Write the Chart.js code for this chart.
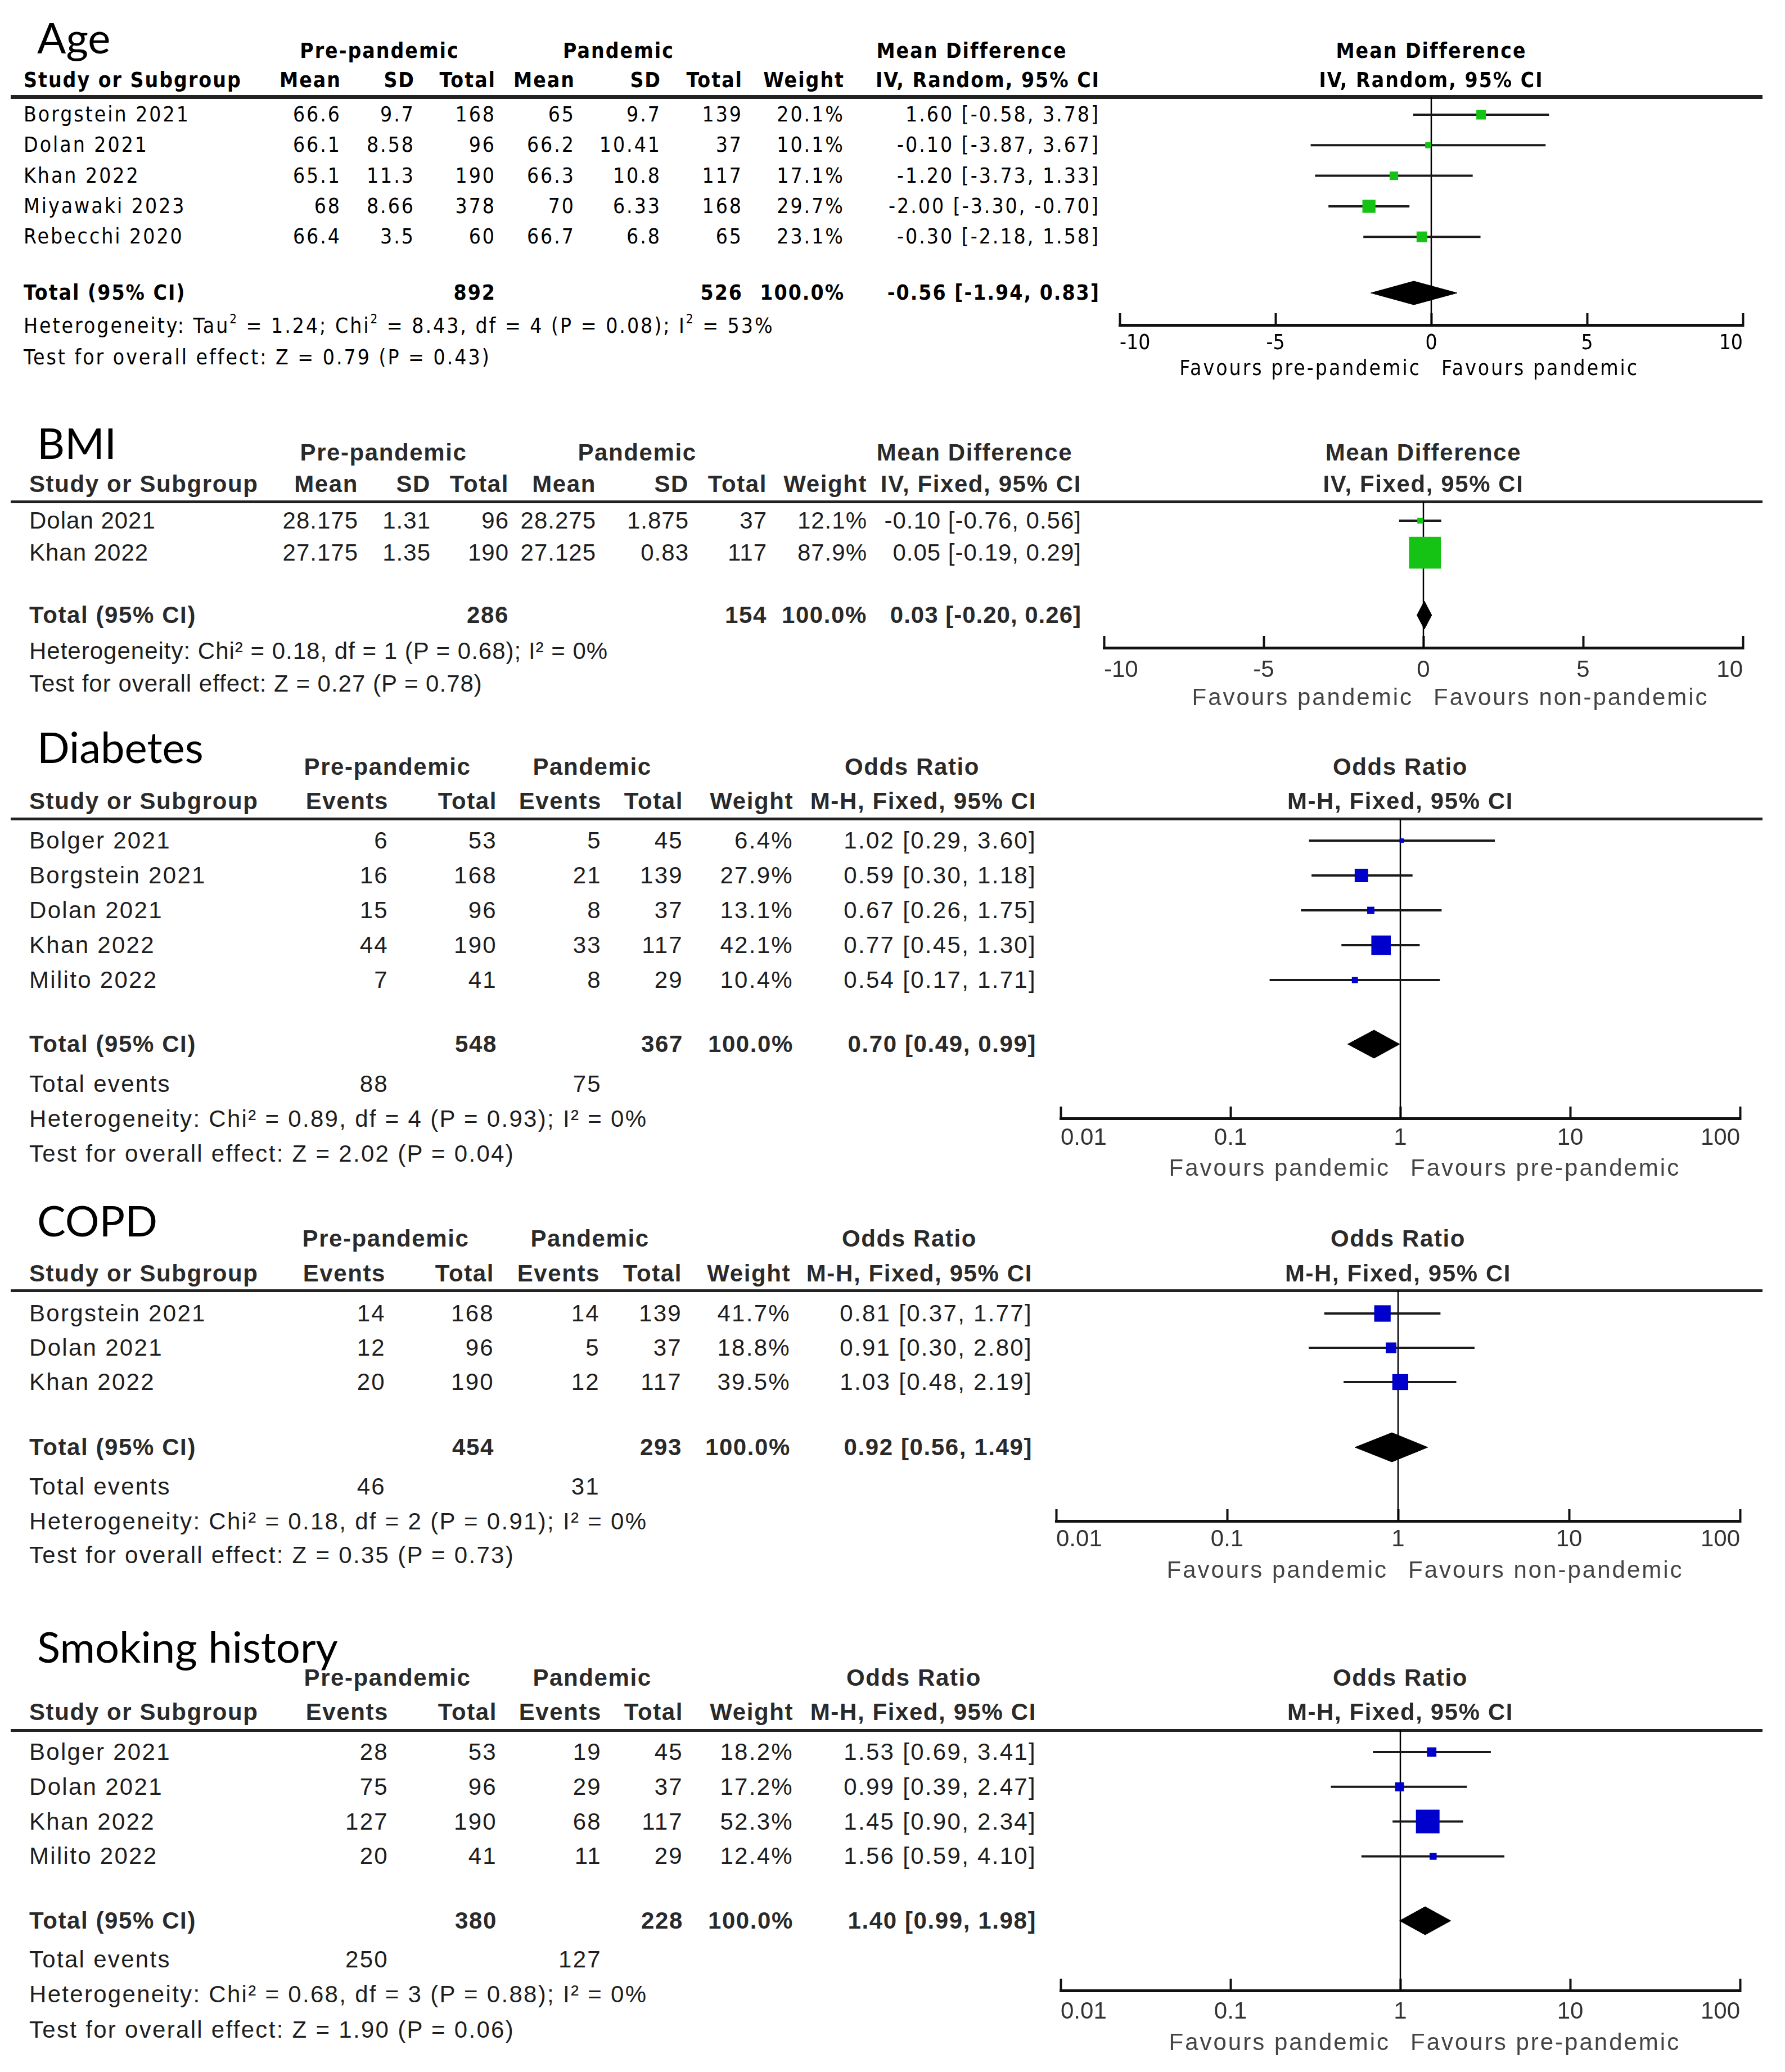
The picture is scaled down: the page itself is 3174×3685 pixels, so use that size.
<!DOCTYPE html>
<html>
<head>
<meta charset="utf-8">
<script src="https://cdn.jsdelivr.net/npm/chart.js@4.4.1/dist/chart.umd.min.js"></script>
<style>
body { margin: 0; background: #fff; }
#page { position: relative; width: 3174px; height: 3685px; overflow: hidden; background: #fff; }
.t { position: absolute; white-space: nowrap; height: 80px; line-height: 80px; }
.dv { font-family: 'DejaVu Sans Condensed', 'DejaVu Sans', sans-serif; font-stretch: condensed; font-size: 37px; letter-spacing: 3px; color: #000; }
.dv.b { letter-spacing: 2px; }
.an { font-family: 'Liberation Sans', Arial, sans-serif; font-size: 42px; letter-spacing: 2.3px; color: #1e1e1e; }
.an.b { letter-spacing: 1.6px; color: #2a2a2a; }
.an.fav { color: #444; letter-spacing: 3px; }
.an.tight { letter-spacing: 1px; }
.b { font-weight: bold; }
.ttl { font-family: Lato, sans-serif; font-size: 76px; color: #000; }
sup { font-size: 0.6em; line-height: 0; vertical-align: 0.75em; }
.rule { position: absolute; height: 5px; background: #222; }
canvas { position: absolute; }
</style>
</head>
<body>
<div id="page"></div>
<script>
// ---------- Age (mean difference, random) ----------
const ageStudies = ['Borgstein 2021', 'Dolan 2021', 'Khan 2022', 'Miyawaki 2023', 'Rebecchi 2020']
const ageMeanPre = [66.6, 66.1, 65.1, 68, 66.4]
const ageSdPre = [9.7, 8.58, 11.3, 8.66, 3.5]
const ageTotalPre = [168, 96, 190, 378, 60]
const ageMeanPan = [65, 66.2, 66.3, 70, 66.7]
const ageSdPan = [9.7, 10.41, 10.8, 6.33, 6.8]
const ageTotalPan = [139, 37, 117, 168, 65]
const ageWeight = [20.1, 10.1, 17.1, 29.7, 23.1]
const ageEst = [1.60, -0.10, -1.20, -2.00, -0.30]
const ageLo = [-0.58, -3.87, -3.73, -3.30, -2.18]
const ageHi = [3.78, 3.67, 1.33, -0.70, 1.58]
const ageOverall = [-0.56, -1.94, 0.83]
const ageSums = [892, 526]
const ageHet = 'Heterogeneity: Tau<sup>2</sup> = 1.24; Chi<sup>2</sup> = 8.43, df = 4 (P = 0.08); I<sup>2</sup> = 53%'
const ageTest = 'Test for overall effect: Z = 0.79 (P = 0.43)'
const ageFavours = ['Favours pre-pandemic', 'Favours pandemic']

// ---------- BMI (mean difference, fixed) ----------
const bmiStudies = ['Dolan 2021', 'Khan 2022']
const bmiMeanPre = [28.175, 27.175]
const bmiSdPre = [1.31, 1.35]
const bmiTotalPre = [96, 190]
const bmiMeanPan = [28.275, 27.125]
const bmiSdPan = [1.875, 0.83]
const bmiTotalPan = [37, 117]
const bmiWeight = [12.1, 87.9]
const bmiEst = [-0.10, 0.05]
const bmiLo = [-0.76, -0.19]
const bmiHi = [0.56, 0.29]
const bmiOverall = [0.03, -0.20, 0.26]
const bmiSums = [286, 154]
const bmiHet = 'Heterogeneity: Chi² = 0.18, df = 1 (P = 0.68); I² = 0%'
const bmiTest = 'Test for overall effect: Z = 0.27 (P = 0.78)'
const bmiFavours = ['Favours pandemic', 'Favours non-pandemic']

// tick values for mean-difference axes
const mdTicks = [-10, -5, 0, 5, 10]
const mdTickLabels = ['-10', '-5', '0', '5', '10']

// ---------- Diabetes (odds ratio) ----------
const diaStudies = ['Bolger 2021', 'Borgstein 2021', 'Dolan 2021', 'Khan 2022', 'Milito 2022']
const diaEventsPre = [6, 16, 15, 44, 7]
const diaTotalPre = [53, 168, 96, 190, 41]
const diaEventsPan = [5, 21, 8, 33, 8]
const diaTotalPan = [45, 139, 37, 117, 29]
const diaWeight = [6.4, 27.9, 13.1, 42.1, 10.4]
const diaEst = [1.02, 0.59, 0.67, 0.77, 0.54]
const diaLo = [0.29, 0.30, 0.26, 0.45, 0.17]
const diaHi = [3.60, 1.18, 1.75, 1.30, 1.71]
const diaOverall = [0.70, 0.49, 0.99]
const diaSums = [548, 367]
const diaEvents = [88, 75]
const diaHet = 'Heterogeneity: Chi² = 0.89, df = 4 (P = 0.93); I² = 0%'
const diaTest = 'Test for overall effect: Z = 2.02 (P = 0.04)'
const diaFavours = ['Favours pandemic', 'Favours pre-pandemic']

// ---------- COPD (odds ratio) ----------
const copdStudies = ['Borgstein 2021', 'Dolan 2021', 'Khan 2022']
const copdEventsPre = [14, 12, 20]
const copdTotalPre = [168, 96, 190]
const copdEventsPan = [14, 5, 12]
const copdTotalPan = [139, 37, 117]
const copdWeight = [41.7, 18.8, 39.5]
const copdEst = [0.81, 0.91, 1.03]
const copdLo = [0.37, 0.30, 0.48]
const copdHi = [1.77, 2.80, 2.19]
const copdOverall = [0.92, 0.56, 1.49]
const copdSums = [454, 293]
const copdEvents = [46, 31]
const copdHet = 'Heterogeneity: Chi² = 0.18, df = 2 (P = 0.91); I² = 0%'
const copdTest = 'Test for overall effect: Z = 0.35 (P = 0.73)'
const copdFavours = ['Favours pandemic', 'Favours non-pandemic']

// ---------- Smoking history (odds ratio) ----------
const smkStudies = ['Bolger 2021', 'Dolan 2021', 'Khan 2022', 'Milito 2022']
const smkEventsPre = [28, 75, 127, 20]
const smkTotalPre = [53, 96, 190, 41]
const smkEventsPan = [19, 29, 68, 11]
const smkTotalPan = [45, 37, 117, 29]
const smkWeight = [18.2, 17.2, 52.3, 12.4]
const smkEst = [1.53, 0.99, 1.45, 1.56]
const smkLo = [0.69, 0.39, 0.90, 0.59]
const smkHi = [3.41, 2.47, 2.34, 4.10]
const smkOverall = [1.40, 0.99, 1.98]
const smkSums = [380, 228]
const smkEvents = [250, 127]
const smkHet = 'Heterogeneity: Chi² = 0.68, df = 3 (P = 0.88); I² = 0%'
const smkTest = 'Test for overall effect: Z = 1.90 (P = 0.06)'
const smkFavours = ['Favours pandemic', 'Favours pre-pandemic']

// tick values for odds-ratio axes
const orTicks = [0.01, 0.1, 1, 10, 100]
const orTickLabels = ['0.01', '0.1', '1', '10', '100']

// ---------- layout (page pixels) ----------
const layouts = {
    age: { titleY: 66, h1Y: 91, h2Y: 143, ruleY: 172, ruleH: 7, y0: 204, s: 54.3, totalY: 521, evY: 0, hetY: 580, testY: 636,
        axisY: 578, labY: 611, favY: 655, xL: 42, cols: [607, 738, 882, 1023, 1176, 1321, 1502, 1956],
        h1: [675, 1100, 1728], xMin: 1991, xMax: 3099, dh: 21, box: [0.65, 4] },
    bmi: { titleY: 787, h1Y: 805, h2Y: 861, ruleY: 892, ruleH: 5, y0: 926, s: 57, totalY: 1094, evY: 0, hetY: 1158, testY: 1216,
        axisY: 1153, labY: 1192, favY: 1240, xL: 52, cols: [637, 766, 905, 1060, 1225, 1364, 1542, 1923],
        h1: [682, 1133, 1733], xMin: 1963, xMax: 3099, dh: 25, box: [0.61, 3] },
    dia: { titleY: 1328, h1Y: 1364, h2Y: 1425, ruleY: 1456, ruleH: 5, y0: 1495, s: 62, totalY: 1857, evY: 1928, hetY: 1990, testY: 2052,
        axisY: 1989, labY: 2024, favY: 2077, xL: 52, cols: [691, 884, 1070, 1215, 1411, 1843],
        h1: [689, 1053, 1622], xMin: 1886, xMax: 3094, dh: 25, box: [0.75, 3] },
    copd: { titleY: 2170, h1Y: 2203, h2Y: 2265, ruleY: 2295, ruleH: 5, y0: 2336, s: 61, totalY: 2574, evY: 2644, hetY: 2706, testY: 2766,
        axisY: 2705, labY: 2738, favY: 2792, xL: 52, cols: [686, 879, 1067, 1213, 1406, 1836],
        h1: [686, 1049, 1617], xMin: 1878, xMax: 3094, dh: 26, box: [0.45, 10.5] },
    smk: { titleY: 2928, h1Y: 2984, h2Y: 3045, ruleY: 3077, ruleH: 5, y0: 3116, s: 61.8, totalY: 3416, evY: 3485, hetY: 3547, testY: 3610,
        axisY: 3540, labY: 3578, favY: 3632, xL: 52, cols: [691, 884, 1070, 1215, 1411, 1843],
        h1: [689, 1053, 1625], xMin: 1886, xMax: 3094, dh: 25, box: [0.74, 3.3] }
}

const panels = [
    { key: 'age', title: 'Age', font: 'dv', rowCls: '', studies: ageStudies,
      cols: [ageMeanPre, ageSdPre, ageTotalPre, ageMeanPan, ageSdPan, ageTotalPan],
      heads: ['Mean', 'SD', 'Total', 'Mean', 'SD', 'Total'], sumCols: [2, 5],
      weight: ageWeight, est: ageEst, lo: ageLo, hi: ageHi, overall: ageOverall, sums: ageSums, events: null,
      het: ageHet, test: ageTest, effect: ['Mean Difference', 'IV, Random, 95% CI'], favours: ageFavours,
      scale: 'linear', ticks: mdTicks, tickLabels: mdTickLabels, ref: 0, color: '#14c314' },
    { key: 'bmi', title: 'BMI', font: 'an', rowCls: ' tight', studies: bmiStudies,
      cols: [bmiMeanPre, bmiSdPre, bmiTotalPre, bmiMeanPan, bmiSdPan, bmiTotalPan],
      heads: ['Mean', 'SD', 'Total', 'Mean', 'SD', 'Total'], sumCols: [2, 5],
      weight: bmiWeight, est: bmiEst, lo: bmiLo, hi: bmiHi, overall: bmiOverall, sums: bmiSums, events: null,
      het: bmiHet, test: bmiTest, effect: ['Mean Difference', 'IV, Fixed, 95% CI'], favours: bmiFavours,
      scale: 'linear', ticks: mdTicks, tickLabels: mdTickLabels, ref: 0, color: '#14c314' },
    { key: 'dia', title: 'Diabetes', font: 'an', rowCls: '', studies: diaStudies,
      cols: [diaEventsPre, diaTotalPre, diaEventsPan, diaTotalPan],
      heads: ['Events', 'Total', 'Events', 'Total'], sumCols: [1, 3],
      weight: diaWeight, est: diaEst, lo: diaLo, hi: diaHi, overall: diaOverall, sums: diaSums, events: diaEvents,
      het: diaHet, test: diaTest, effect: ['Odds Ratio', 'M-H, Fixed, 95% CI'], favours: diaFavours,
      scale: 'logarithmic', ticks: orTicks, tickLabels: orTickLabels, ref: 1, color: '#0000cc' },
    { key: 'copd', title: 'COPD', font: 'an', rowCls: '', studies: copdStudies,
      cols: [copdEventsPre, copdTotalPre, copdEventsPan, copdTotalPan],
      heads: ['Events', 'Total', 'Events', 'Total'], sumCols: [1, 3],
      weight: copdWeight, est: copdEst, lo: copdLo, hi: copdHi, overall: copdOverall, sums: copdSums, events: copdEvents,
      het: copdHet, test: copdTest, effect: ['Odds Ratio', 'M-H, Fixed, 95% CI'], favours: copdFavours,
      scale: 'logarithmic', ticks: orTicks, tickLabels: orTickLabels, ref: 1, color: '#0000cc' },
    { key: 'smk', title: 'Smoking history', font: 'an', rowCls: '', studies: smkStudies,
      cols: [smkEventsPre, smkTotalPre, smkEventsPan, smkTotalPan],
      heads: ['Events', 'Total', 'Events', 'Total'], sumCols: [1, 3],
      weight: smkWeight, est: smkEst, lo: smkLo, hi: smkHi, overall: smkOverall, sums: smkSums, events: smkEvents,
      het: smkHet, test: smkTest, effect: ['Odds Ratio', 'M-H, Fixed, 95% CI'], favours: smkFavours,
      scale: 'logarithmic', ticks: orTicks, tickLabels: orTickLabels, ref: 1, color: '#0000cc' }
]

const page = document.getElementById('page')

function put(html, x, y, align, cls) {
    const d = document.createElement('div')
    d.className = 't ' + cls
    d.innerHTML = html
    d.style.top = (y - 40) + 'px'
    if (align === 'left') {
        d.style.left = x + 'px'
    } else if (align === 'right') {
        d.style.left = (x - 1200) + 'px'; d.style.width = '1200px'; d.style.textAlign = 'right'
    } else {
        d.style.left = (x - 600) + 'px'; d.style.width = '1200px'; d.style.textAlign = 'center'
    }
    page.appendChild(d)
}

const ci = (e, l, h) => e.toFixed(2) + ' [' + l.toFixed(2) + ', ' + h.toFixed(2) + ']'

function drawPanel(p) {
    const L = layouts[p.key]
    const f = p.font
    const rf = f + p.rowCls
    const nc = p.cols.length

    // table text
    put(p.title, 66, L.titleY, 'left', 'ttl')
    put('Pre-pandemic', L.h1[0], L.h1Y, 'center', f + ' b')
    put('Pandemic', L.h1[1], L.h1Y, 'center', f + ' b')
    put(p.effect[0], L.h1[2], L.h1Y, 'center', f + ' b')
    put('Study or Subgroup', L.xL, L.h2Y, 'left', f + ' b')
    p.heads.concat(['Weight', p.effect[1]]).forEach((h, j) => put(h, L.cols[j], L.h2Y, 'right', f + ' b'))

    const rule = document.createElement('div')
    rule.className = 'rule'
    rule.style.left = '19px'; rule.style.width = '3115px'
    rule.style.height = L.ruleH + 'px'; rule.style.top = (L.ruleY - L.ruleH / 2) + 'px'
    page.appendChild(rule)

    p.studies.forEach((s, i) => {
        const y = L.y0 + i * L.s
        put(s, L.xL, y, 'left', rf)
        p.cols.forEach((c, j) => put(String(c[i]), L.cols[j], y, 'right', rf))
        put(p.weight[i].toFixed(1) + '%', L.cols[nc], y, 'right', rf)
        put(ci(p.est[i], p.lo[i], p.hi[i]), L.cols[nc + 1], y, 'right', rf)
    })

    put('Total (95% CI)', L.xL, L.totalY, 'left', f + ' b')
    put(String(p.sums[0]), L.cols[p.sumCols[0]], L.totalY, 'right', f + ' b')
    put(String(p.sums[1]), L.cols[p.sumCols[1]], L.totalY, 'right', f + ' b')
    put('100.0%', L.cols[nc], L.totalY, 'right', f + ' b')
    put(ci(p.overall[0], p.overall[1], p.overall[2]), L.cols[nc + 1], L.totalY, 'right', f + ' b' + p.rowCls)
    if (p.events) {
        put('Total events', L.xL, L.evY, 'left', f)
        put(String(p.events[0]), L.cols[0], L.evY, 'right', f)
        put(String(p.events[1]), L.cols[2], L.evY, 'right', f)
    }
    put(p.het, L.xL, L.hetY, 'left', rf)
    put(p.test, L.xL, L.testY, 'left', rf)

    // forest plot
    const m = 70
    const top = L.ruleY
    const H = L.labY + 32 - top
    const W = L.xMax - L.xMin + 2 * m
    const cv = document.createElement('canvas')
    cv.width = W; cv.height = H
    cv.style.left = (L.xMin - m) + 'px'; cv.style.top = top + 'px'
    page.appendChild(cv)

    const yMin = -(L.y0 - top) / L.s
    const yMax = yMin + H / L.s
    const totV = (L.totalY - L.y0) / L.s
    const axisV = (L.axisY - L.y0) / L.s
    const dh = L.dh / L.s
    const fontFamily = f === 'dv' ? "'DejaVu Sans Condensed', 'DejaVu Sans'" : "'Liberation Sans', Arial"
    const fontSize = f === 'dv' ? 37 : 42

    const datasets = []
    datasets.push({
        data: [{ x: p.ref, y: yMin }, { x: p.ref, y: axisV }],
        showLine: true, borderColor: '#000', borderWidth: 2.5, pointRadius: 0, order: 9
    })
    p.studies.forEach((s, i) => {
        const side = L.box[0] * p.weight[i] + L.box[1]
        datasets.push({
            data: [{ x: p.lo[i], y: i }, { x: p.est[i], y: i }, { x: p.hi[i], y: i }],
            showLine: true, borderColor: '#1a1a1a', borderWidth: 4,
            pointRadius: [0, side / Math.SQRT2, 0], pointStyle: 'rect',
            pointBackgroundColor: p.color, pointBorderWidth: 0, order: 2
        })
    })
    const o = p.overall
    datasets.push({
        data: [{ x: o[1], y: totV }, { x: o[0], y: totV - dh }, { x: o[2], y: totV }, { x: o[0], y: totV + dh }, { x: o[1], y: totV }],
        showLine: true, fill: 'shape', backgroundColor: '#000', borderColor: '#000', borderWidth: 1,
        pointRadius: 0, order: 1
    })

    const chart = new Chart(cv.getContext('2d'), {
        type: 'scatter',
        data: { datasets: datasets },
        options: {
            animation: false, responsive: false, events: [],
            layout: { padding: { left: m, right: m, top: 0, bottom: 0 } },
            plugins: { legend: { display: false }, tooltip: { enabled: false } },
            scales: {
                x: {
                    type: p.scale, min: p.ticks[0], max: p.ticks[p.ticks.length - 1],
                    position: { y: axisV },
                    afterBuildTicks: sc => { sc.ticks = p.ticks.map(v => ({ value: v })) },
                    border: { display: true, color: '#111', width: 5 },
                    grid: { display: true, drawOnChartArea: false, drawTicks: true, tickLength: -24, tickWidth: 4, tickColor: '#111' },
                    ticks: {
                        align: 'inner', autoSkip: false, maxRotation: 0,
                        padding: L.labY - L.axisY + 24 - fontSize / 2,
                        color: f === 'dv' ? '#000' : '#333',
                        font: { family: fontFamily, size: fontSize, lineHeight: 1 },
                        callback: (v, i) => p.tickLabels[i]
                    }
                },
                y: { type: 'linear', display: false, min: yMin, max: yMax, reverse: true, bounds: 'data' }
            }
        }
    })

    // headers above the plot and favour labels below its axis
    const refPix = L.xMin - m + chart.scales.x.getPixelForValue(p.ref)
    put(p.effect[0], refPix, L.h1Y, 'center', f + ' b')
    put(p.effect[1], refPix, L.h2Y, 'center', f + ' b')
    put(p.favours[0], refPix - 18, L.favY, 'right', f + ' fav')
    put(p.favours[1], refPix + 18, L.favY, 'left', f + ' fav')
}

panels.forEach(drawPanel)
</script>
</body>
</html>
